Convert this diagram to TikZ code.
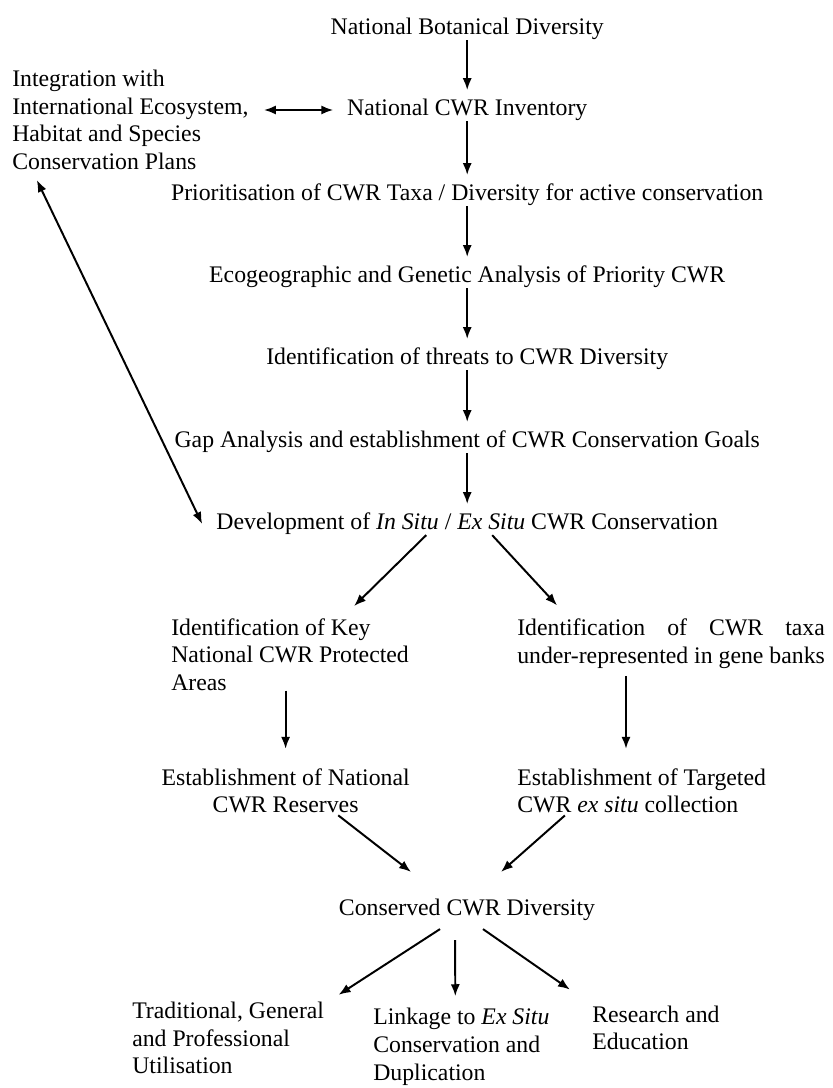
\documentclass[tikz,border=0pt]{standalone}
\usepackage{fontspec}
\setmainfont{Liberation Serif}
\usetikzlibrary{arrows.meta}
\tikzset{
    >={Latex[length=8.5pt,width=6.5pt]},
    stage/.style={inner sep=0pt, font=\fontsize{16.9}{19.6}\selectfont},
    stageleft/.style={stage, anchor=west, align=left},
    flow/.style={draw=black, ->, line width=1.4pt},
    chain/.style={flow, shorten >=0.22cm},
    twoway/.style={draw=black, <->, line width=1.4pt},
}

\begin{document}
\begin{tikzpicture}
\useasboundingbox (0cm,0cm) rectangle (20.8cm,-27.2cm);
% \draw[step=1cm, very thin, gray] (0cm,0cm) grid (20.8cm,-27.2cm);
\node[stage] (nbd) at (11.68cm,-0.725cm) {National Botanical Diversity};
\node[stage] (nci) at (11.68cm,-2.75cm) {National CWR Inventory};
\node[stageleft] (integ) at (0.3cm,-3.0cm) {Integration with\\International Ecosystem,\\Habitat and Species\\Conservation Plans};
\node[stage] (prio) at (11.68cm,-4.875cm) {Prioritisation of CWR Taxa / Diversity for active conservation};
\node[stage] (eco) at (11.68cm,-6.925cm) {Ecogeographic and Genetic Analysis of Priority CWR};
\node[stage] (thr) at (11.68cm,-8.975cm) {Identification of threats to CWR Diversity};
\node[stage] (gap) at (11.68cm,-11.05cm) {Gap Analysis and establishment of CWR Conservation Goals};
\node[stage] (dev) at (11.68cm,-13.1cm) {Development of \textit{In Situ} / \textit{Ex Situ} CWR Conservation};
\node[stageleft] (idk) at (4.275cm,-16.36cm) {Identification of Key\\National CWR Protected\\Areas};
\node[stage, anchor=west] (idt) at (12.925cm,-16.1cm) {\begin{tabular}{@{}l@{}}Identification\hfill of\hfill CWR\hfill taxa\\under-represented in gene banks\end{tabular}};
\node[stage, align=center] (estN) at (7.14cm,-19.775cm) {Establishment of National\\CWR Reserves};
\node[stageleft] (estT) at (12.925cm,-19.775cm) {Establishment of Targeted\\CWR \textit{ex situ} collection};
\node[stage] (cons) at (11.675cm,-22.75cm) {Conserved CWR Diversity};
\node[stageleft] (trad) at (3.3cm,-25.95cm) {Traditional, General\\and Professional\\Utilisation};
\node[stageleft] (link) at (9.325cm,-26.17cm) {Linkage to \textit{Ex Situ}\\Conservation and\\Duplication};
\node[stageleft] (res) at (14.8cm,-25.7cm) {Research and\\Education};

\draw[chain] (nbd) -- (nci);
\draw[chain] (nci) -- (prio);
\draw[chain] (prio) -- (eco);
\draw[chain] (eco) -- (thr);
\draw[chain] (thr) -- (gap);
\draw[chain] (gap) -- (dev);
\draw[twoway, shorten <=0.38cm, shorten >=0.34cm] (integ.east |- nci.west) -- (nci.west);
\draw[twoway, shorten <=0.28cm] ([xshift=0.5cm]integ.south west) -- ([xshift=-0.35cm]dev.west);
\draw[flow] ([xshift=-1.025cm]dev.south) -- ([xshift=1.6cm,yshift=0.3cm]idk.north);
\draw[flow] ([xshift=0.625cm]dev.south) -- ([xshift=-2.85cm,yshift=0.27cm]idt.north);
\draw[flow, shorten >=0.49cm] (idk.south -| estN.north) -- (estN.north);
\draw[flow, shorten <=0.1cm, shorten >=0.49cm] ([xshift=-0.39cm]estT.north |- idt.south) -- ([xshift=-0.39cm]estT.north);
\draw[flow, shorten <=0.07cm] ([xshift=1.26cm]estN.south) -- ([xshift=-1.4cm,yshift=0.675cm]cons.north);
\draw[flow, shorten <=0.07cm] ([xshift=-1.865cm]estT.south) -- ([xshift=0.85cm,yshift=0.675cm]cons.north);
\draw[flow] ([xshift=-0.675cm,yshift=-0.2cm]cons.south) -- ([xshift=2.76cm,yshift=0.175cm]trad.north);
\draw[flow, shorten <=0.475cm, shorten >=0.3cm] ([xshift=-0.3cm]cons.south) -- ([xshift=-0.15cm]link.north);
\draw[flow] ([xshift=0.4cm,yshift=-0.2cm]cons.south) -- ([xshift=-2.15cm,yshift=0.4cm]res.north);
\end{tikzpicture}
\end{document}
